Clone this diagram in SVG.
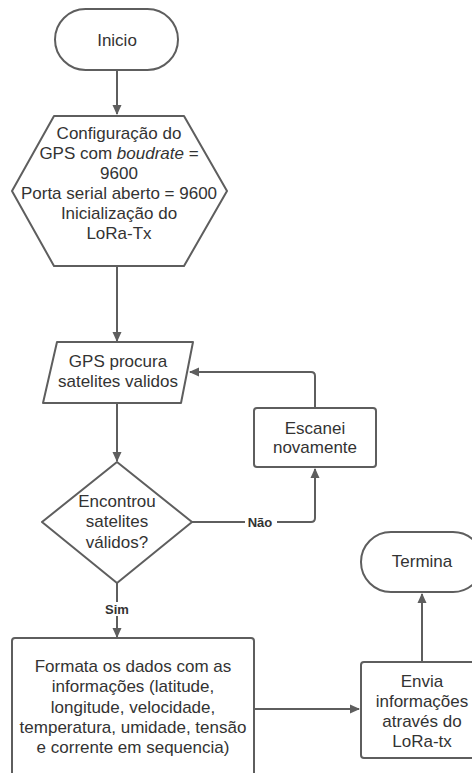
<svg xmlns="http://www.w3.org/2000/svg" width="472" height="773" viewBox="0 0 472 773">
<style>
.s{fill:#fff;stroke:#5e5e5e;stroke-width:2;stroke-linejoin:round}
.c{fill:none;stroke:#5e5e5e;stroke-width:2}
text{font-family:"Liberation Sans",Arial,sans-serif;font-size:17px;fill:#333;text-anchor:middle}
.l{font-size:13px;font-weight:bold}
</style>
<defs>
<marker id="a" markerWidth="10" markerHeight="10" refX="9" refY="5" orient="auto" markerUnits="userSpaceOnUse">
<path d="M0,0.5 L10,5 L0,9.5 Z" fill="#5e5e5e"/>
</marker>
</defs>
<rect width="472" height="773" fill="#fff"/>
<g id="connectors">
<path class="c" d="M117,70 V114" marker-end="url(#a)"/>
<path class="c" d="M117,266 V341" marker-end="url(#a)"/>
<path class="c" d="M117,403 V461" marker-end="url(#a)"/>
<path class="c" d="M192,522 H311 Q315,522 315,518 V469" marker-end="url(#a)"/>
<path class="c" d="M315,408 V376 Q315,372 311,372 H190" marker-end="url(#a)"/>
<path class="c" d="M117,583 V637" marker-end="url(#a)"/>
<path class="c" d="M254,709 H359" marker-end="url(#a)"/>
<path class="c" d="M422,662 V594" marker-end="url(#a)"/>
<rect x="245" y="515" width="32" height="14" fill="#fff"/>
<text class="l" x="260" y="527">Não</text>
<rect x="103" y="602" width="28" height="14" fill="#fff"/>
<text class="l" x="117" y="614">Sim</text>
</g>
<g id="inicio">
<rect class="s" x="55" y="9" width="123" height="61" rx="30.5"/>
<text x="117" y="46">Inicio</text>
</g>
<g id="config">
<path class="s" d="M54,116 H184 L227,191 L184,266 H54 L12,191 Z"/>
<text x="119" y="139">Configuração do</text>
<text x="119" y="159">GPS com <tspan font-style="italic">boudrate</tspan> =</text>
<text x="119" y="179">9600</text>
<text x="119" y="199">Porta serial aberto = 9600</text>
<text x="119" y="219">Inicialização do</text>
<text x="119" y="239">LoRa-Tx</text>
</g>
<g id="gps">
<path class="s" d="M57,342 H193 L181,403 H43 Z"/>
<text x="118" y="367">GPS procura</text>
<text x="118" y="387">satelites validos</text>
</g>
<g id="escanei">
<rect class="s" x="254" y="408" width="122" height="59" rx="3"/>
<text x="315" y="434">Escanei</text>
<text x="315" y="453">novamente</text>
</g>
<g id="encontrou">
<path class="s" d="M117,462 L192,522 L117,583 L42,522 Z"/>
<text x="117" y="507">Encontrou</text>
<text x="117" y="527">satelites</text>
<text x="117" y="548">válidos?</text>
</g>
<g id="formata">
<rect class="s" x="12" y="638" width="242" height="150" rx="3"/>
<text x="133" y="672">Formata os dados com as</text>
<text x="133" y="692">informações (latitude,</text>
<text x="133" y="713">longitude, velocidade,</text>
<text x="133" y="733">temperatura, umidade, tensão</text>
<text x="133" y="753">e corrente em sequencia)</text>
</g>
<g id="envia">
<rect class="s" x="361" y="662" width="122" height="96" rx="3"/>
<text x="422" y="687">Envia</text>
<text x="422" y="707">informações</text>
<text x="422" y="727">através do</text>
<text x="422" y="747">LoRa-tx</text>
</g>
<g id="termina">
<rect class="s" x="361" y="532" width="122" height="60" rx="30"/>
<text x="422" y="567">Termina</text>
</g>
</svg>
